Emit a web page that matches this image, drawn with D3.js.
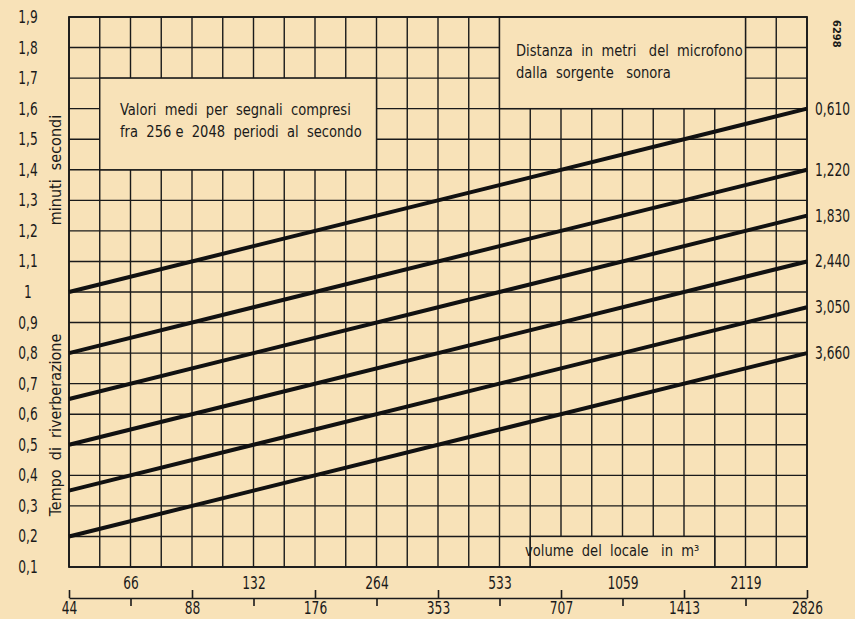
<!DOCTYPE html>
<html>
<head>
<meta charset="utf-8">
<script src="https://cdn.jsdelivr.net/npm/d3@7"></script>
<style>
  body { margin: 0; background: #f8e2b8; }
  text { font-family: "DejaVu Sans Condensed", "DejaVu Sans", sans-serif; fill: #1a1a1a; }
</style>
</head>
<body>
<div id="chart"></div>
<script>
// values (x in octaves above 44 m3)
var yTickValues = [0.1, 0.2, 0.3, 0.4, 0.5, 0.6, 0.7, 0.8, 0.9, 1, 1.1, 1.2, 1.3, 1.4, 1.5, 1.6, 1.7, 1.8, 1.9];
var yTickLabels = ["0,1", "0,2", "0,3", "0,4", "0,5", "0,6", "0,7", "0,8", "0,9", "1", "1,1", "1,2", "1,3", "1,4", "1,5", "1,6", "1,7", "1,8", "1,9"];
var volumeLabels = ["44", "88", "176", "353", "707", "1413", "2826"];
var volumeMidLabels = ["66", "132", "264", "533", "1059", "2119"];
var distances = ["0,610", "1,220", "1,830", "2,440", "3,050", "3,660"];
var startValues = [1.0, 0.8, 0.65, 0.5, 0.35, 0.2];
var endValues = [1.6, 1.4, 1.25, 1.1, 0.95, 0.8];

// blank boxes in the grid with their notes
var notes = [
  { x0: 0.25, x1: 2.5, y0: 1.4, y1: 1.7, lines: ["Valori  medi  per  segnali  compresi", "fra  256 e  2048  periodi  al  secondo"] },
  { x0: 3.5, x1: 5.5, y0: 1.6, y1: 1.9, lines: ["Distanza  in  metri   del  microfono", "dalla  sorgente   sonora"] },
  { x0: 3.75, x1: 5.25, y0: 0.1, y1: 0.2, lines: ["volume  del  locale   in  m³"] }
];

var W = 855, H = 619;
var bg = "#f8e2b8", ink = "#1a1a1a";
var narrowNum = 0.8, narrowWord = 0.91;

var svg = d3.select("#chart").append("svg").attr("width", W).attr("height", H);
svg.append("rect").attr("width", W).attr("height", H).attr("fill", bg);

var x = d3.scaleLinear().domain([0, 6]).range([69, 807]);
var y = d3.scaleLinear().domain([0.1, 1.9]).range([567, 17]);

// grid
var g = svg.append("g").attr("stroke", ink).attr("stroke-width", 1.4);
g.selectAll(".v").data(d3.range(0, 25).map(function (i) { return i / 4; }))
  .enter().append("line")
  .attr("x1", function (d) { return x(d); }).attr("x2", function (d) { return x(d); })
  .attr("y1", y(0.1)).attr("y2", y(1.9));
g.selectAll(".h").data(yTickValues)
  .enter().append("line")
  .attr("x1", x(0)).attr("x2", x(6))
  .attr("y1", function (d) { return y(d); }).attr("y2", function (d) { return y(d); });

// note boxes cut out of the grid
var nb = svg.selectAll(".note").data(notes).enter().append("g");
nb.append("rect")
  .attr("x", function (d) { return x(d.x0); })
  .attr("y", function (d) { return y(d.y1); })
  .attr("width", function (d) { return x(d.x1) - x(d.x0); })
  .attr("height", function (d) { return y(d.y0) - y(d.y1); })
  .attr("fill", bg).attr("stroke", ink).attr("stroke-width", 1.4);

svg.append("rect").attr("x", x(0)).attr("y", y(1.9))
  .attr("width", x(6) - x(0)).attr("height", y(0.1) - y(1.9))
  .attr("fill", "none").attr("stroke", ink).attr("stroke-width", 1.8);

nb.each(function (d, i) {
  var tx = [120, 516, 525][i], ty = [115, 56, 556][i];
  d3.select(this).selectAll("text").data(d.lines).enter().append("text")
    .attr("transform", function (l, j) {
      return "translate(" + tx + "," + (ty + j * 22) + ") scale(" + narrowWord + ",1)";
    })
    .attr("font-size", 16)
    .style("white-space", "pre")
    .text(function (l) { return l; });
});

// curves
var line = d3.line().x(function (d) { return x(d[0]); }).y(function (d) { return y(d[1]); });
svg.selectAll(".curve").data(distances).enter().append("path")
  .attr("d", function (d, i) { return line([[0, startValues[i]], [6, endValues[i]]]); })
  .attr("fill", "none").attr("stroke", "#111").attr("stroke-width", 4);

svg.selectAll(".dist").data(distances).enter().append("text")
  .attr("transform", function (d, i) {
    return "translate(815," + (y(endValues[i]) + 6) + ") scale(" + narrowNum + ",1)";
  })
  .attr("font-size", 17).text(function (d) { return d; });

// y axis labels
var yAxis = svg.append("g").attr("transform", "translate(" + x(0) + ",0)")
  .call(d3.axisLeft(y).tickValues(yTickValues).tickSize(0)
    .tickFormat(function (d, i) { return yTickLabels[i]; }));
yAxis.select(".domain").remove();
yAxis.selectAll("text").attr("x", 0).attr("text-anchor", "middle")
  .attr("transform", "translate(-41,0) scale(" + narrowNum + ",1)")
  .attr("font-family", null).attr("font-size", 17).attr("fill", ink);

svg.append("text").attr("transform", "translate(61,425) rotate(-90)")
  .attr("text-anchor", "middle").attr("font-size", 16).style("white-space", "pre")
  .text("Tempo  di  riverberazione");
svg.append("text").attr("transform", "translate(61,170) rotate(-90)")
  .attr("text-anchor", "middle").attr("font-size", 16).style("white-space", "pre")
  .text("minuti  secondi");

// volume axis
var axY = 598;
var xb = svg.append("g").attr("transform", "translate(0," + axY + ")")
  .call(d3.axisBottom(x).tickValues(d3.range(0, 7)).tickSizeInner(-8).tickSizeOuter(0).tickPadding(4)
    .tickFormat(function (d, i) { return volumeLabels[i]; }));
var xt = svg.append("g").attr("transform", "translate(0," + axY + ")")
  .call(d3.axisTop(x).tickValues(d3.range(0, 6).map(function (i) { return i + 0.5; }))
    .tickSizeInner(-8).tickSizeOuter(0).tickPadding(9)
    .tickFormat(function (d, i) { return volumeMidLabels[i]; }));
xt.select(".domain").remove();
[xb, xt].forEach(function (a) {
  a.select(".domain").attr("stroke", ink).attr("stroke-width", 1.6);
  a.selectAll(".tick line").attr("stroke", ink).attr("stroke-width", 1.6);
  a.selectAll("text").attr("transform", "scale(" + narrowNum + ",1)")
    .attr("font-family", null).attr("font-size", 17).attr("fill", ink);
});

svg.append("text").attr("transform", "translate(833,20) rotate(90)")
  .attr("font-size", 11).attr("font-weight", "bold").text("6298");
</script>
</body>
</html>
